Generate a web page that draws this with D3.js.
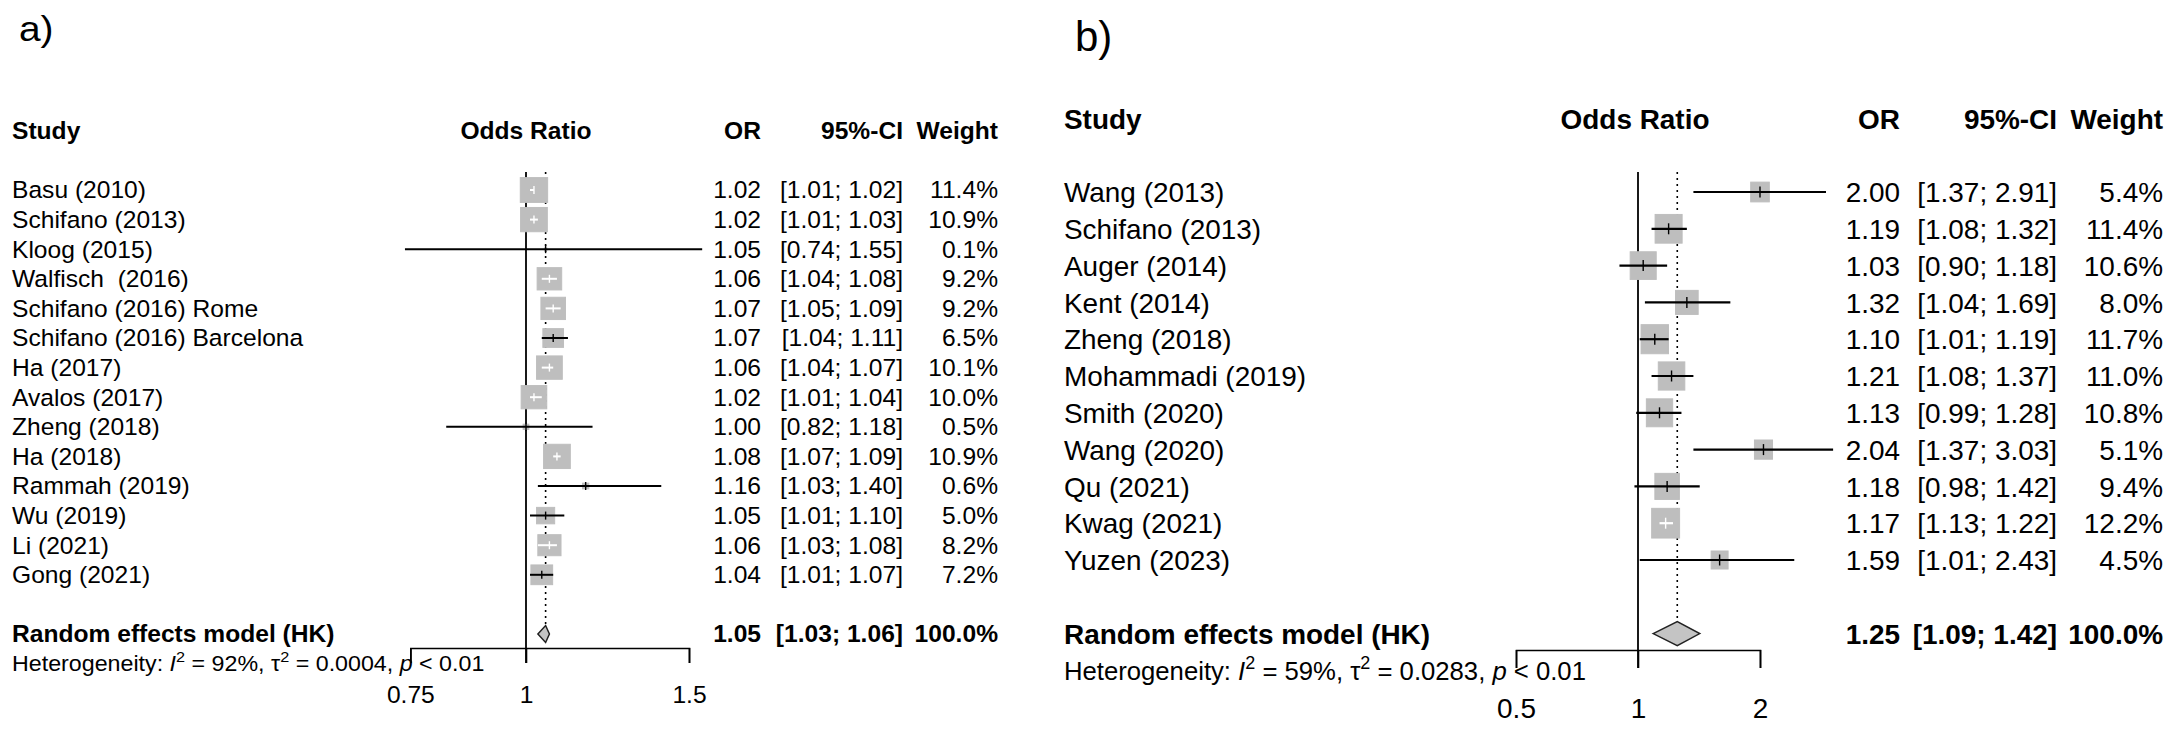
<!DOCTYPE html>
<html><head><meta charset="utf-8">
<script src="https://cdn.jsdelivr.net/npm/d3@7"></script>
<style>
body{margin:0;background:#fff}
svg{display:block;background:#fff}
text{font-family:"Liberation Sans",Arial,Helvetica,sans-serif;fill:#000;white-space:pre}
</style>
</head><body>
<svg id="c" width="2168" height="733"></svg>
<script>
// ---------- Panel a data ----------
const studiesA = ["Basu (2010)","Schifano (2013)","Kloog (2015)","Walfisch  (2016)","Schifano (2016) Rome","Schifano (2016) Barcelona","Ha (2017)","Avalos (2017)","Zheng (2018)","Ha (2018)","Rammah (2019)","Wu (2019)","Li (2021)","Gong (2021)"];
const orA     = [1.02,1.02,1.05,1.06,1.07,1.07,1.06,1.02,1.00,1.08,1.16,1.05,1.06,1.04];
const lowerA  = [1.01,1.01,0.74,1.04,1.05,1.04,1.04,1.01,0.82,1.07,1.03,1.01,1.03,1.01];
const upperA  = [1.02,1.03,1.55,1.08,1.09,1.11,1.07,1.04,1.18,1.09,1.40,1.10,1.08,1.07];
const weightA = [11.4,10.9,0.1,9.2,9.2,6.5,10.1,10.0,0.5,10.9,0.6,5.0,8.2,7.2];
const summaryA = [1.05,1.03,1.06];          // OR, lower, upper
const hetA = ["92%","0.0004","< 0.01"];      // I2, tau2, p
const ticksA = [0.75,1,1.5];

// ---------- Panel b data ----------
const studiesB = ["Wang (2013)","Schifano (2013)","Auger (2014)","Kent (2014)","Zheng (2018)","Mohammadi (2019)","Smith (2020)","Wang (2020)","Qu (2021)","Kwag (2021)","Yuzen (2023)"];
const orB     = [2.00,1.19,1.03,1.32,1.10,1.21,1.13,2.04,1.18,1.17,1.59];
const lowerB  = [1.37,1.08,0.90,1.04,1.01,1.08,0.99,1.37,0.98,1.13,1.01];
const upperB  = [2.91,1.32,1.18,1.69,1.19,1.37,1.28,3.03,1.42,1.22,2.43];
const weightB = [5.4,11.4,10.6,8.0,11.7,11.0,10.8,5.1,9.4,12.2,4.5];
const summaryB = [1.25,1.09,1.42];
const hetB = ["59%","0.0283","< 0.01"];
const ticksB = [0.5,1,2];

const headers = ["Study","Odds Ratio","OR","95%-CI","Weight"];
const modelLabel = "Random effects model (HK)";

// ---------- layout (not data) ----------
const cfgA = {label:"a)", labelX:19, labelY:41, labelFs:36, labelSx:1.08,
  xLabel:12, fs:23.5, sx:1.047, row0:190, rowH:29.6, x1:526, ppl:402,
  orRight:761, ciRight:903, wRight:998, oddsCenter:526,
  axisY:648, tickLen:15, tickBase:703, lineTop:172,
  kH:7.35, kW:8.1, ciW:2, estH:8, dH:17, refW:1.8, hetScale:0.945};
const cfgB = {label:"b)", labelX:1075, labelY:51, labelFs:42, labelSx:1.0,
  xLabel:1064, fs:28.5, sx:0.98, row0:192, rowH:36.8, x1:1638, ppl:176,
  orRight:1900, ciRight:2057, wRight:2163, oddsCenter:1635,
  axisY:650, tickLen:18, tickBase:718, lineTop:172,
  kH:8.5, kW:8.0, ciW:2.2, estH:11, dH:24, refW:1.8, hetScale:0.92};

const svg = d3.select("#c");
const f2 = d3.format(".2f"), f1 = d3.format(".1f");

function panel(cfg, studies, ors, los, his, ws, summ, het, ticks) {
  const g = svg.append("g");
  const lo0 = ticks[0], hi0 = ticks[ticks.length-1];
  const x = d3.scaleLog().domain([lo0, hi0])
    .range([cfg.x1 + cfg.ppl*Math.log(lo0), cfg.x1 + cfg.ppl*Math.log(hi0)]);
  const yRow = i => cfg.row0 + i*cfg.rowH;

  function txt(xp, cy, s, anchor, bold, size) {
    const fs = size || cfg.fs;
    return g.append("text")
      .attr("transform", `translate(${xp},${cy + 0.355*fs}) scale(${cfg.sx},1)`)
      .attr("text-anchor", anchor)
      .attr("font-size", fs)
      .attr("font-weight", bold ? "bold" : "normal")
      .attr("xml:space", "preserve")
      .text(s);
  }

  // panel label
  svg.append("text").attr("transform", `translate(${cfg.labelX},${cfg.labelY}) scale(${cfg.labelSx},1)`)
    .attr("font-size", cfg.labelFs).text(cfg.label);

  // headers
  const hy = yRow(-2);
  txt(cfg.xLabel, hy, headers[0], "start", true);
  txt(cfg.oddsCenter, hy, headers[1], "middle", true);
  txt(cfg.orRight, hy, headers[2], "end", true);
  txt(cfg.ciRight, hy, headers[3], "end", true);
  txt(cfg.wRight, hy, headers[4], "end", true);

  const n = studies.length;
  const ySum = yRow(n+1), yHet = yRow(n+2);

  // reference line at OR = 1
  g.append("line").attr("x1", x(1)).attr("x2", x(1))
    .attr("y1", cfg.lineTop).attr("y2", cfg.axisY + cfg.tickLen)
    .attr("stroke", "#000").attr("stroke-width", cfg.refW);
  // dotted line at summary
  g.append("line").attr("x1", x(summ[0])).attr("x2", x(summ[0]))
    .attr("y1", cfg.lineTop).attr("y2", ySum - cfg.dH/2)
    .attr("stroke", "#000").attr("stroke-width", 1.6).attr("stroke-dasharray", "2,4");

  // study rows
  studies.forEach((s, i) => {
    const cy = yRow(i);
    txt(cfg.xLabel, cy, s, "start", false);
    txt(cfg.orRight, cy, f2(ors[i]), "end", false);
    txt(cfg.ciRight, cy, `[${f2(los[i])}; ${f2(his[i])}]`, "end", false);
    txt(cfg.wRight, cy, f1(ws[i]) + "%", "end", false);

    const bw = cfg.kW*Math.sqrt(ws[i]), bh = cfg.kH*Math.sqrt(ws[i]);
    const cx = x(ors[i]);
    g.append("rect").attr("x", cx - bw/2).attr("y", cy - bh/2)
      .attr("width", bw).attr("height", bh)
      .attr("fill", "#bebebe").attr("stroke", "#bebebe").attr("stroke-width", 1);
    const inside = x(los[i]) >= cx - bw/2 && x(his[i]) <= cx + bw/2;
    const col = inside ? "#fff" : "#000";
    g.append("line").attr("x1", x(los[i])).attr("x2", x(his[i]))
      .attr("y1", cy).attr("y2", cy).attr("stroke", col).attr("stroke-width", cfg.ciW);
    g.append("line").attr("x1", cx).attr("x2", cx)
      .attr("y1", cy - cfg.estH/2).attr("y2", cy + cfg.estH/2)
      .attr("stroke", col).attr("stroke-width", 1.4);
  });

  // summary diamond
  const dpts = [[x(summ[1]), ySum],[x(summ[0]), ySum - cfg.dH/2],[x(summ[2]), ySum],[x(summ[0]), ySum + cfg.dH/2]];
  g.append("polygon").attr("points", dpts.map(p => p.join(",")).join(" "))
    .attr("fill", "#c4c4c4").attr("stroke", "#222").attr("stroke-width", 1.5);
  txt(cfg.xLabel, ySum, modelLabel, "start", true);
  txt(cfg.orRight, ySum, f2(summ[0]), "end", true);
  txt(cfg.ciRight, ySum, `[${f2(summ[1])}; ${f2(summ[2])}]`, "end", true);
  txt(cfg.wRight, ySum, "100.0%", "end", true);

  // heterogeneity
  const hfs = cfg.fs*cfg.hetScale;
  const ht = txt(cfg.xLabel, yHet, null, "start", false, hfs);
  const sup = hfs*0.42;
  ht.append("tspan").text("Heterogeneity: ");
  ht.append("tspan").attr("font-style", "italic").text("I");
  ht.append("tspan").attr("font-size", hfs*0.7).attr("dy", -sup).text("2");
  ht.append("tspan").attr("dy", sup).text(` = ${het[0]}, τ`);
  ht.append("tspan").attr("font-size", hfs*0.7).attr("dy", -sup).text("2");
  ht.append("tspan").attr("dy", sup).text(` = ${het[1]}, `);
  ht.append("tspan").attr("font-style", "italic").text("p");
  ht.append("tspan").text(` ${het[2]}`);

  // axis
  const ax = g.append("g").attr("transform", `translate(0,${cfg.axisY})`)
    .call(d3.axisBottom(x).tickValues(ticks).tickFormat(d => String(d)).tickSize(cfg.tickLen));
  ax.attr("font-size", null).attr("font-family", null);
  ax.select(".domain").attr("stroke", "#000").attr("stroke-width", 1.6);
  ax.selectAll(".tick line").attr("stroke", "#000").attr("stroke-width", 1.6);
  ax.selectAll(".tick text")
    .attr("y", null).attr("dy", null)
    .attr("transform", `translate(0,${cfg.tickBase - cfg.axisY}) scale(${cfg.sx},1)`)
    .attr("font-size", cfg.fs).attr("fill", "#000");
}

panel(cfgA, studiesA, orA, lowerA, upperA, weightA, summaryA, hetA, ticksA);
panel(cfgB, studiesB, orB, lowerB, upperB, weightB, summaryB, hetB, ticksB);
</script>
</body></html>
